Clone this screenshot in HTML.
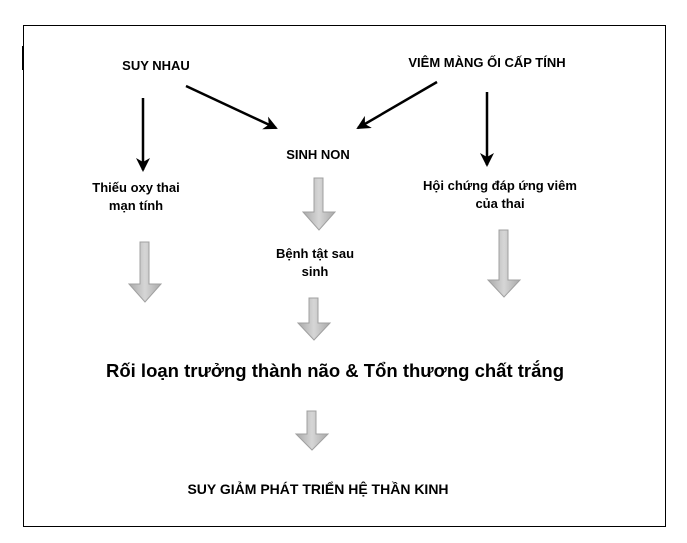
<!DOCTYPE html>
<html><head><meta charset="utf-8"><style>
body{margin:0;width:687px;height:543px;background:#fff;position:relative;overflow:hidden;font-family:"Liberation Sans",Arial,sans-serif;font-weight:bold;color:#000}
.b{position:absolute;left:23px;top:25px;width:641px;height:500px;border:1px solid #000}
.t{position:absolute;text-align:center;transform:translate(-50%,-50%);white-space:nowrap;font-size:13px;line-height:18px}
svg{position:absolute;left:0;top:0}
</style></head><body>
<div class="b"></div>
<div style="position:absolute;left:22px;top:46px;width:2px;height:24px;background:#000"></div>
<svg width="687" height="543">
<defs>
<linearGradient id="g" x1="0" x2="1"><stop offset="0" stop-color="#a9a9a9"/><stop offset=".5" stop-color="#d6d6d6"/><stop offset="1" stop-color="#a9a9a9"/></linearGradient>
<marker id="a" markerWidth="14" markerHeight="14" refX="12" refY="7" orient="auto" markerUnits="userSpaceOnUse"><path d="M0,0 L14,7 L0,14 L4,7 Z" fill="#000"/></marker>
</defs>
<g stroke="#000" stroke-width="2.5" marker-end="url(#a)">
<line x1="143" y1="98" x2="143" y2="170"/>
<line x1="186" y1="86" x2="276" y2="128"/>
<line x1="437" y1="82" x2="358" y2="128"/>
<line x1="487" y1="92" x2="487" y2="165"/>
</g>
<g fill="url(#g)" stroke="#a0a0a0" stroke-width="1">
<path d="M140,242h9v42h12l-16,18l-16,-18h11z"/>
<path d="M314,178h9v34h12l-16,18l-16,-18h11z"/>
<path d="M499,230h9v50h12l-16,17l-16,-17h11z"/>
<path d="M309,298h9v25h12l-16,17l-16,-17h11z"/>
<path d="M307,411h9v23h12l-16,16l-16,-16h11z"/>
</g>
</svg>
<div class="t" style="left:156px;top:66px">SUY NHAU</div>
<div class="t" style="left:487px;top:63px">VIÊM MÀNG ỐI CẤP TÍNH</div>
<div class="t" style="left:318px;top:155px">SINH NON</div>
<div class="t" style="left:136px;top:197px">Thiếu oxy thai<br>mạn tính</div>
<div class="t" style="left:500px;top:195px">Hội chứng đáp ứng viêm<br>của thai</div>
<div class="t" style="left:315px;top:263px">Bệnh tật sau<br>sinh</div>
<div class="t" style="left:335px;top:371px;font-size:18.5px">Rối loạn trưởng thành não &amp; Tổn thương chất trắng</div>
<div class="t" style="left:318px;top:489px;font-size:14px">SUY GIẢM PHÁT TRIỂN HỆ THẦN KINH</div>
</body></html>
